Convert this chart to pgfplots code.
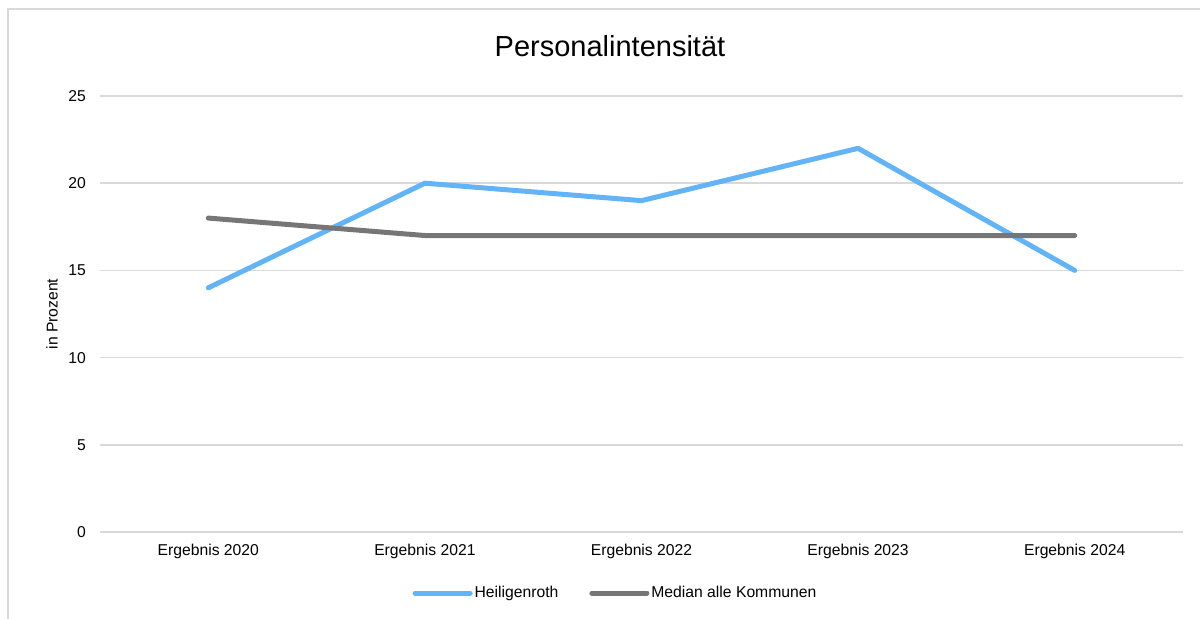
\documentclass[border=0pt]{standalone}
\usepackage{fontspec}
\setmainfont{Liberation Sans}
\usepackage{pgfplots}
\pgfplotsset{compat=1.18}
\definecolor{lblue}{HTML}{63B4F6}
\definecolor{dgray}{HTML}{767676}
\definecolor{gridgray}{HTML}{D9D9D9}
\begin{document}
\begin{tikzpicture}
\path[use as bounding box] (0,0) rectangle (1200bp,619bp);
\draw[gridgray, line width=2bp] (8bp,0bp) -- (8bp,610bp) -- (1200bp,610bp);
\node[font=\fontsize{29bp}{34bp}\selectfont, anchor=center] at (610bp,573bp) {Personalintensität};
\begin{axis}[
  at={(100bp,87bp)}, anchor=south west,
  scale only axis, width=1083bp, height=436bp,
  xmin=-0.5, xmax=4.5, ymin=0, ymax=25,
  xtick={0,1,2,3,4},
  xticklabels={Ergebnis 2020,Ergebnis 2021,Ergebnis 2022,Ergebnis 2023,Ergebnis 2024},
  ytick={0,5,10,15,20,25},
  axis line style={draw=none},
  major tick length=0pt,
  xmajorgrids=false, ymajorgrids=true,
  major grid style={draw=gridgray, line width=1.5bp},
  /pgf/number format/assume math mode=true,
  tick label style={font=\fontsize{15.7bp}{18bp}\selectfont, inner sep=0pt},
  yticklabel style={anchor=east, xshift=-14bp},
  xticklabel style={anchor=center, yshift=-19bp},
  ylabel={in Prozent},
  every axis y label/.style={at={(axis description cs:0,0.5)}, xshift=-48bp, rotate=90, anchor=center, font=\fontsize{15.7bp}{18bp}\selectfont},
  legend columns=2,
  legend style={at={(axis description cs:0.2885,-0.14)}, anchor=west, draw=none, fill=none, inner sep=0pt,
    font=\fontsize{15.7bp}{18bp}\selectfont,
    nodes={inner sep=2bp},
    /tikz/every even column/.append style={column sep=29bp}},
  legend image code/.code={\draw[#1] (0bp,0bp) -- (55bp,0bp);},
  clip=false,
]
\addplot[lblue, line width=5bp, line cap=round, line join=round] coordinates {(0,14) (1,20) (2,19) (3,22) (4,15)};
\addlegendentry{Heiligenroth}
\addplot[dgray, line width=5bp, line cap=round, line join=round] coordinates {(0,18) (1,17) (2,17) (3,17) (4,17)};
\addlegendentry{Median alle Kommunen}
\end{axis}
\end{tikzpicture}
\end{document}
